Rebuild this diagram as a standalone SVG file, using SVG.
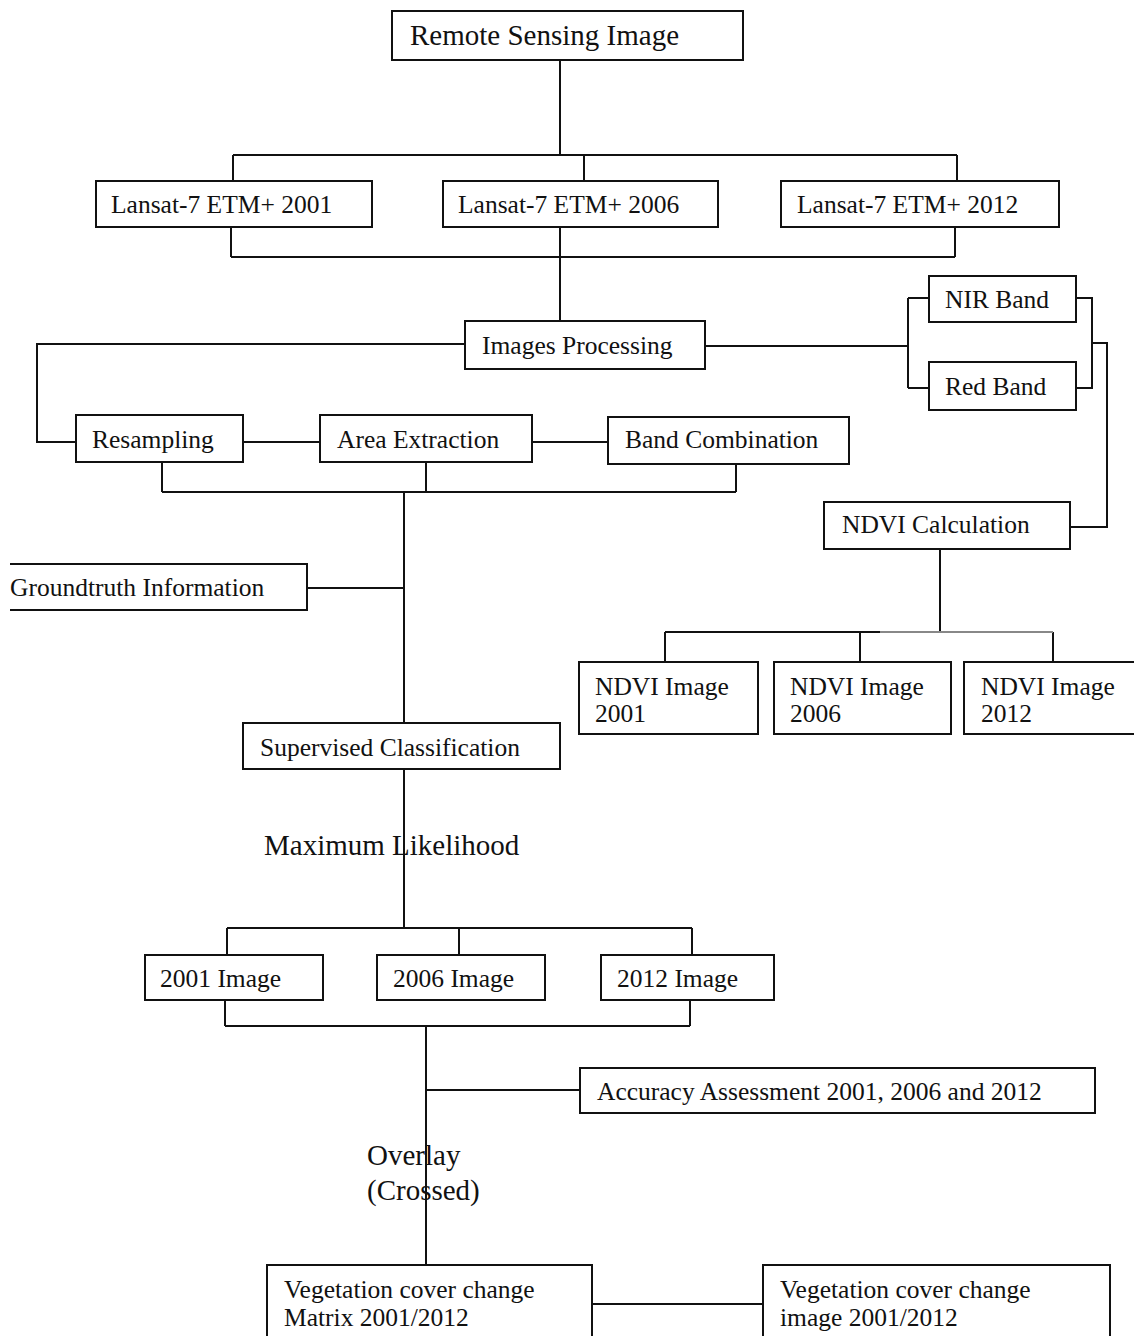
<svg xmlns="http://www.w3.org/2000/svg" width="1134" height="1336" viewBox="0 0 1134 1336">
<style>
.box{fill:#fff;stroke:#111;stroke-width:2}
.t{font-family:"Liberation Serif","Times New Roman",serif;font-size:25.5px;fill:#111}
.big{font-size:29px}
.c{fill:none;stroke:#111;stroke-width:2}
</style>
<rect width="1134" height="1336" fill="#fff"/>
<g id="connectors">
<path class="c" d="M560 60V155M233 155H957M233 155V181M584 155V181M957 155V181"/>
<path class="c" d="M231 227V257M560 227V257M955 227V257M231 257H955M560 257V321"/>
<path class="c" d="M465 344H37V442H76"/>
<path class="c" d="M705 346H908M908 298V388M908 298H929M908 388H929"/>
<path class="c" d="M1076 298H1092V388H1076M1092 343H1107V527H1070"/>
<path class="c" d="M940 549V632M665 632H880M665 632V662M860 632V662M1053 632V662"/>
<path d="M880 632H1053" fill="none" stroke="#888" stroke-width="2"/>
<path class="c" d="M243 442H320M532 442H608"/>
<path class="c" d="M162 462V492M426 462V492M736 464V492M162 492H736M404 492V723"/>
<path class="c" d="M307 588H404"/>
<path class="c" d="M404 769V928M227 928H692M227 928V955M459 928V955M692 928V955"/>
<path class="c" d="M225 1000V1026M690 1000V1026M225 1026H690M426 1026V1265"/>
<path class="c" d="M426 1090H580"/>
<path class="c" d="M592 1304H763"/>
</g>
<g id="remote"><rect class="box" x="392" y="11" width="351" height="49"/><text class="t big" x="410" y="45">Remote Sensing Image</text></g>
<g id="l2001"><rect class="box" x="96" y="181" width="276" height="46"/><text class="t" x="111" y="213">Lansat-7 ETM+ 2001</text></g>
<g id="l2006"><rect class="box" x="443" y="181" width="275" height="46"/><text class="t" x="458" y="213">Lansat-7 ETM+ 2006</text></g>
<g id="l2012"><rect class="box" x="781" y="181" width="278" height="46"/><text class="t" x="797" y="213">Lansat-7 ETM+ 2012</text></g>
<g id="proc"><rect class="box" x="465" y="321" width="240" height="48"/><text class="t" x="482" y="354">Images Processing</text></g>
<g id="nir"><rect class="box" x="929" y="276" width="147" height="46"/><text class="t" x="945" y="308">NIR Band</text></g>
<g id="red"><rect class="box" x="929" y="362" width="147" height="48"/><text class="t" x="945" y="395">Red Band</text></g>
<g id="resamp"><rect class="box" x="76" y="415" width="167" height="47"/><text class="t" x="92" y="448">Resampling</text></g>
<g id="area"><rect class="box" x="320" y="415" width="212" height="47"/><text class="t" x="337" y="448">Area Extraction</text></g>
<g id="band"><rect class="box" x="608" y="417" width="241" height="47"/><text class="t" x="625" y="448">Band Combination</text></g>
<g id="ndvicalc"><rect class="box" x="824" y="502" width="246" height="47"/><text class="t" x="842" y="533">NDVI Calculation</text></g>
<g id="ground"><path class="box" d="M10 564H307V610H10"/><text class="t" x="10" y="596">Groundtruth Information</text></g>
<g id="n2001"><rect class="box" x="579" y="662" width="179" height="72"/><text class="t" x="595" y="695">NDVI Image</text><text class="t" x="595" y="722">2001</text></g>
<g id="n2006"><rect class="box" x="774" y="662" width="177" height="72"/><text class="t" x="790" y="695">NDVI Image</text><text class="t" x="790" y="722">2006</text></g>
<g id="n2012"><rect class="box" x="964" y="662" width="190" height="72"/><text class="t" x="981" y="695">NDVI Image</text><text class="t" x="981" y="722">2012</text></g>
<g id="superv"><rect class="box" x="243" y="723" width="317" height="46"/><text class="t" x="260" y="756">Supervised Classification</text></g>
<g id="maxlik"><text class="t big" x="264" y="855">Maximum Likelihood</text></g>
<g id="i2001"><rect class="box" x="145" y="955" width="178" height="45"/><text class="t" x="160" y="987">2001 Image</text></g>
<g id="i2006"><rect class="box" x="377" y="955" width="168" height="45"/><text class="t" x="393" y="987">2006 Image</text></g>
<g id="i2012"><rect class="box" x="601" y="955" width="173" height="45"/><text class="t" x="617" y="987">2012 Image</text></g>
<g id="accuracy"><rect class="box" x="580" y="1068" width="515" height="45"/><text class="t" x="597" y="1100">Accuracy Assessment 2001, 2006 and 2012</text></g>
<g id="overlay"><text class="t big" x="367" y="1165">Overlay</text><text class="t big" x="367" y="1200">(Crossed)</text></g>
<g id="matrix"><rect class="box" x="267" y="1265" width="325" height="90"/><text class="t" x="284" y="1298">Vegetation cover change</text><text class="t" x="284" y="1326">Matrix 2001/2012</text></g>
<g id="vimage"><rect class="box" x="763" y="1265" width="347" height="90"/><text class="t" x="780" y="1298">Vegetation cover change</text><text class="t" x="780" y="1326">image 2001/2012</text></g>
</svg>
